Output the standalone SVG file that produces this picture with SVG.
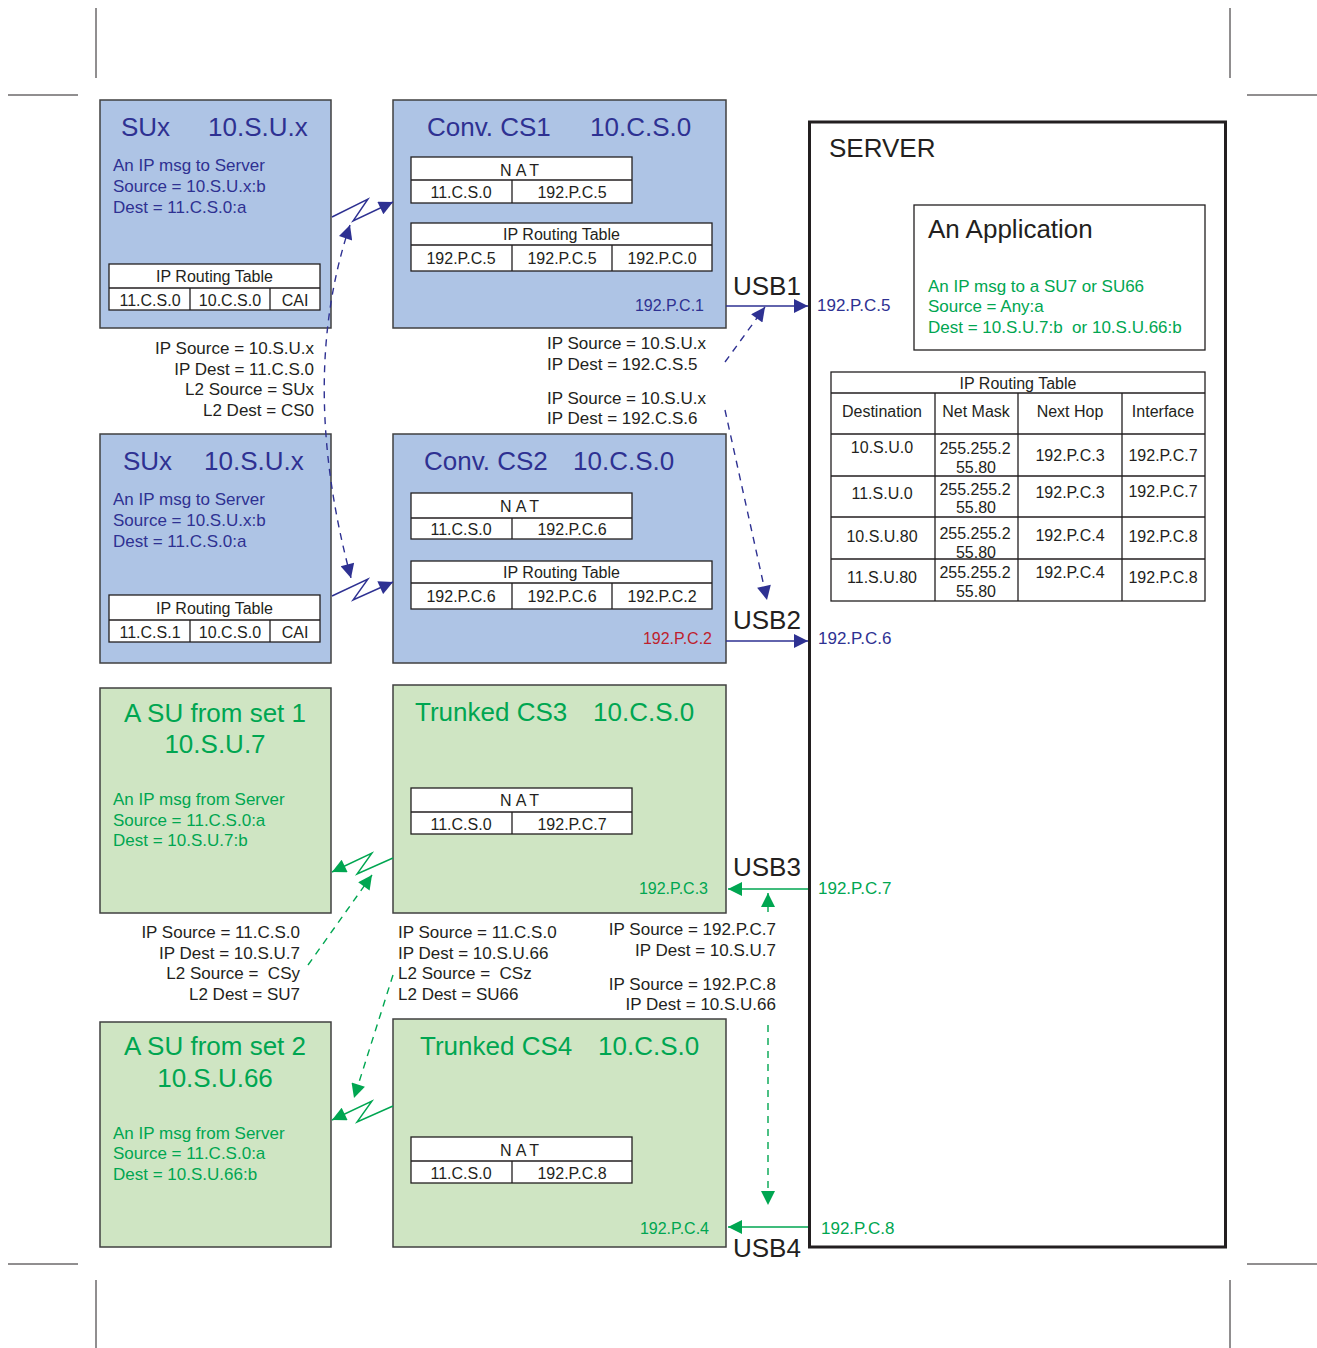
<svg xmlns="http://www.w3.org/2000/svg" width="1317" height="1348" viewBox="0 0 1317 1348">
<defs>
<style>
text{font-family:"Liberation Sans",Arial,sans-serif;fill:#231f20}
.t26{font-size:26px}
.t17{font-size:17px}
.t16{font-size:16px}
.blue{fill:#2e3192}
.green{fill:#00a651}
.red{fill:#be1e2d}
.mid{text-anchor:middle}
.end{text-anchor:end}
.bbox{fill:#aec4e5;stroke:#404040;stroke-width:1.5}
.gbox{fill:#cfe5c3;stroke:#404040;stroke-width:1.5}
.tbl{fill:#fff;stroke:#231f20;stroke-width:1.3}
.ln{stroke:#231f20;stroke-width:1.3;fill:none}
.crop{stroke:#231f20;stroke-width:1}
.cb{stroke:#2e3192;stroke-width:1.4;fill:none}
.cg{stroke:#00a651;stroke-width:1.4;fill:none}
.dash{stroke-dasharray:7,6}
</style>
<marker id="ab" viewBox="0 0 10 10" refX="10" refY="5" markerWidth="16" markerHeight="14" markerUnits="userSpaceOnUse" orient="auto-start-reverse"><path d="M0,0 L10,5 L0,10 z" fill="#2e3192"/></marker>
<marker id="ag" viewBox="0 0 10 10" refX="10" refY="5" markerWidth="16" markerHeight="14" markerUnits="userSpaceOnUse" orient="auto-start-reverse"><path d="M0,0 L10,5 L0,10 z" fill="#00a651"/></marker>
</defs>
<rect width="1317" height="1348" fill="#fff"/>
<g id="cropmarks">
<line class="crop" x1="96" y1="8" x2="96" y2="78"/>
<line class="crop" x1="1230" y1="8" x2="1230" y2="78"/>
<line class="crop" x1="8" y1="95" x2="78" y2="95"/>
<line class="crop" x1="1247" y1="95" x2="1317" y2="95"/>
<line class="crop" x1="8" y1="1264" x2="78" y2="1264"/>
<line class="crop" x1="1247" y1="1264" x2="1317" y2="1264"/>
<line class="crop" x1="96" y1="1280" x2="96" y2="1348"/>
<line class="crop" x1="1230" y1="1280" x2="1230" y2="1348"/>
</g>

<g id="sux1">
<rect class="bbox" x="100" y="100" width="231" height="228"/>
<text class="t26 blue" x="121" y="136">SUx</text>
<text class="t26 blue" x="208" y="136">10.S.U.x</text>
<text class="t17 blue" x="113" y="171">An IP msg to Server</text>
<text class="t17 blue" x="113" y="192">Source = 10.S.U.x:b</text>
<text class="t17 blue" x="113" y="213">Dest = 11.C.S.0:a</text>
<rect class="tbl" x="109" y="264" width="211" height="46"/>
<path class="ln" d="M109,288 H320 M190,288 V310 M270,288 V310"/>
<text class="t16 mid" x="214.5" y="282">IP Routing Table</text>
<text class="t16 mid" x="150" y="306">11.C.S.0</text>
<text class="t16 mid" x="230" y="306">10.C.S.0</text>
<text class="t16 mid" x="295" y="306">CAI</text>
</g>

<g id="cs1">
<rect class="bbox" x="393" y="100" width="333" height="228"/>
<text class="t26 blue" x="427" y="136">Conv. CS1</text>
<text class="t26 blue" x="590" y="136">10.C.S.0</text>
<rect class="tbl" x="411" y="157" width="221" height="46"/>
<path class="ln" d="M411,180 H632 M512,180 V203"/>
<text class="t16 mid" x="521.5" y="176" letter-spacing="4">NAT</text>
<text class="t16 mid" x="461" y="198">11.C.S.0</text>
<text class="t16 mid" x="572" y="198">192.P.C.5</text>
<rect class="tbl" x="411" y="223" width="301" height="48"/>
<path class="ln" d="M411,245 H712 M512,245 V271 M612,245 V271"/>
<text class="t16 mid" x="561.5" y="240">IP Routing Table</text>
<text class="t16 mid" x="461" y="264">192.P.C.5</text>
<text class="t16 mid" x="562" y="264">192.P.C.5</text>
<text class="t16 mid" x="662" y="264">192.P.C.0</text>
<text class="t16 blue end" x="704" y="311">192.P.C.1</text>
</g>

<g id="sux2">
<rect class="bbox" x="100" y="434" width="231" height="229"/>
<text class="t26 blue" x="123" y="470">SUx</text>
<text class="t26 blue" x="204" y="470">10.S.U.x</text>
<text class="t17 blue" x="113" y="505">An IP msg to Server</text>
<text class="t17 blue" x="113" y="526">Source = 10.S.U.x:b</text>
<text class="t17 blue" x="113" y="547">Dest = 11.C.S.0:a</text>
<rect class="tbl" x="109" y="595" width="211" height="47"/>
<path class="ln" d="M109,620 H320 M190,620 V642 M270,620 V642"/>
<text class="t16 mid" x="214.5" y="614">IP Routing Table</text>
<text class="t16 mid" x="150" y="638">11.C.S.1</text>
<text class="t16 mid" x="230" y="638">10.C.S.0</text>
<text class="t16 mid" x="295" y="638">CAI</text>
</g>

<g id="cs2">
<rect class="bbox" x="393" y="434" width="333" height="229"/>
<text class="t26 blue" x="424" y="470">Conv. CS2</text>
<text class="t26 blue" x="573" y="470">10.C.S.0</text>
<rect class="tbl" x="411" y="493" width="221" height="46"/>
<path class="ln" d="M411,518 H632 M512,518 V539"/>
<text class="t16 mid" x="521.5" y="512" letter-spacing="4">NAT</text>
<text class="t16 mid" x="461" y="535">11.C.S.0</text>
<text class="t16 mid" x="572" y="535">192.P.C.6</text>
<rect class="tbl" x="411" y="561" width="301" height="48"/>
<path class="ln" d="M411,583 H712 M512,583 V609 M612,583 V609"/>
<text class="t16 mid" x="561.5" y="578">IP Routing Table</text>
<text class="t16 mid" x="461" y="602">192.P.C.6</text>
<text class="t16 mid" x="562" y="602">192.P.C.6</text>
<text class="t16 mid" x="662" y="602">192.P.C.2</text>
<text class="t16 red end" x="712" y="644">192.P.C.2</text>
</g>

<g id="su7">
<rect class="gbox" x="100" y="688" width="231" height="225"/>
<text class="t26 green mid" x="215" y="722">A SU from set 1</text>
<text class="t26 green mid" x="215" y="753">10.S.U.7</text>
<text class="t17 green" x="113" y="805">An IP msg from Server</text>
<text class="t17 green" x="113" y="826">Source = 11.C.S.0:a</text>
<text class="t17 green" x="113" y="846">Dest = 10.S.U.7:b</text>
</g>

<g id="cs3">
<rect class="gbox" x="393" y="685" width="333" height="228"/>
<text class="t26 green" x="415" y="721">Trunked CS3</text>
<text class="t26 green" x="593" y="721">10.C.S.0</text>
<rect class="tbl" x="411" y="788" width="221" height="46"/>
<path class="ln" d="M411,812 H632 M512,812 V834"/>
<text class="t16 mid" x="521.5" y="806" letter-spacing="4">NAT</text>
<text class="t16 mid" x="461" y="830">11.C.S.0</text>
<text class="t16 mid" x="572" y="830">192.P.C.7</text>
<text class="t16 green end" x="708" y="894">192.P.C.3</text>
</g>

<g id="su66">
<rect class="gbox" x="100" y="1022" width="231" height="225"/>
<text class="t26 green mid" x="215" y="1055">A SU from set 2</text>
<text class="t26 green mid" x="215" y="1087">10.S.U.66</text>
<text class="t17 green" x="113" y="1139">An IP msg from Server</text>
<text class="t17 green" x="113" y="1159">Source = 11.C.S.0:a</text>
<text class="t17 green" x="113" y="1180">Dest = 10.S.U.66:b</text>
</g>

<g id="cs4">
<rect class="gbox" x="393" y="1019" width="333" height="228"/>
<text class="t26 green" x="420" y="1055">Trunked CS4</text>
<text class="t26 green" x="598" y="1055">10.C.S.0</text>
<rect class="tbl" x="411" y="1137" width="221" height="46"/>
<path class="ln" d="M411,1161 H632 M512,1161 V1183"/>
<text class="t16 mid" x="521.5" y="1156" letter-spacing="4">NAT</text>
<text class="t16 mid" x="461" y="1179">11.C.S.0</text>
<text class="t16 mid" x="572" y="1179">192.P.C.8</text>
<text class="t16 green end" x="709" y="1234">192.P.C.4</text>
</g>

<g id="server">
<rect x="809.5" y="122" width="416" height="1125" fill="none" stroke="#231f20" stroke-width="3"/>
<text class="t26" x="829" y="157">SERVER</text>
<g id="application">
<rect x="914" y="205" width="291" height="145" fill="#fff" stroke="#231f20" stroke-width="1.3"/>
<text class="t26" x="928" y="238">An Application</text>
<text class="t17 green" x="928" y="292">An IP msg to a SU7 or SU66</text>
<text class="t17 green" x="928" y="312">Source = Any:a</text>
<text class="t17 green" x="928" y="333" xml:space="preserve">Dest = 10.S.U.7:b  or 10.S.U.66:b</text>
</g>
<g id="server-routing-table">
<rect class="tbl" x="831" y="372" width="374" height="229"/>
<path class="ln" d="M831,393 H1205 M831,434 H1205 M831,476 H1205 M831,517 H1205 M831,559 H1205 M935,393 V601 M1018,393 V601 M1122,393 V601"/>
<text class="t16 mid" x="1018" y="389">IP Routing Table</text>
<text class="t16 mid" x="882" y="417">Destination</text>
<text class="t16 mid" x="976" y="417">Net Mask</text>
<text class="t16 mid" x="1070" y="417">Next Hop</text>
<text class="t16 mid" x="1163" y="417">Interface</text>
<text class="t16 mid" x="882" y="453">10.S.U.0</text>
<text class="t16 mid" x="975" y="454">255.255.2</text>
<text class="t16 mid" x="976" y="473">55.80</text>
<text class="t16 mid" x="1070" y="461">192.P.C.3</text>
<text class="t16 mid" x="1163" y="461">192.P.C.7</text>
<text class="t16 mid" x="882" y="499">11.S.U.0</text>
<text class="t16 mid" x="975" y="495">255.255.2</text>
<text class="t16 mid" x="976" y="513">55.80</text>
<text class="t16 mid" x="1070" y="498">192.P.C.3</text>
<text class="t16 mid" x="1163" y="497">192.P.C.7</text>
<text class="t16 mid" x="882" y="542">10.S.U.80</text>
<text class="t16 mid" x="975" y="539">255.255.2</text>
<text class="t16 mid" x="976" y="558">55.80</text>
<text class="t16 mid" x="1070" y="541">192.P.C.4</text>
<text class="t16 mid" x="1163" y="542">192.P.C.8</text>
<text class="t16 mid" x="882" y="583">11.S.U.80</text>
<text class="t16 mid" x="975" y="578">255.255.2</text>
<text class="t16 mid" x="976" y="597">55.80</text>
<text class="t16 mid" x="1070" y="578">192.P.C.4</text>
<text class="t16 mid" x="1163" y="583">192.P.C.8</text>
</g>
</g>

<g id="connectors">
<polyline class="cb" points="332,217 368,199 353,221 393,202" marker-end="url(#ab)"/>
<polyline class="cb" points="332,596 368,579 353,600 393,582" marker-end="url(#ab)"/>
<path class="cb dash" d="M350,225 Q298,380 351,578" marker-start="url(#ab)" marker-end="url(#ab)"/>
<line class="cb" x1="726" y1="306" x2="808" y2="306" marker-end="url(#ab)"/>
<line class="cb" x1="726" y1="641" x2="808" y2="641" marker-end="url(#ab)"/>
<line class="cb dash" x1="725" y1="362" x2="765" y2="307" marker-end="url(#ab)"/>
<line class="cb dash" x1="725" y1="410" x2="767" y2="600" marker-end="url(#ab)"/>
<polyline class="cg" points="393,858 357,874 372,853 332,872" marker-end="url(#ag)"/>
<polyline class="cg" points="393,1106 357,1122 372,1101 332,1120" marker-end="url(#ag)"/>
<line class="cg dash" x1="308" y1="965" x2="372" y2="875" marker-end="url(#ag)"/>
<line class="cg dash" x1="393" y1="975" x2="354" y2="1098" marker-end="url(#ag)"/>
<line class="cg" x1="808" y1="889" x2="728" y2="889" marker-end="url(#ag)"/>
<line class="cg" x1="808" y1="1227" x2="728" y2="1227" marker-end="url(#ag)"/>
<line class="cg dash" x1="768" y1="912" x2="768" y2="893" marker-end="url(#ag)"/>
<line class="cg dash" x1="768" y1="1025" x2="768" y2="1205" marker-end="url(#ag)"/>
</g>

<g id="labels">
<text class="t26" x="733" y="295">USB1</text>
<text class="t17 blue" x="817" y="311">192.P.C.5</text>
<text class="t26" x="733" y="629">USB2</text>
<text class="t17 blue" x="818" y="644">192.P.C.6</text>
<text class="t26" x="733" y="876">USB3</text>
<text class="t17 green" x="818" y="894">192.P.C.7</text>
<text class="t26" x="733" y="1257">USB4</text>
<text class="t17 green" x="821" y="1234">192.P.C.8</text>
<text class="t17" x="547" y="349">IP Source = 10.S.U.x</text>
<text class="t17" x="547" y="370">IP Dest = 192.C.S.5</text>
<text class="t17" x="547" y="404">IP Source = 10.S.U.x</text>
<text class="t17" x="547" y="424">IP Dest = 192.C.S.6</text>
<text class="t17 end" x="314" y="354">IP Source = 10.S.U.x</text>
<text class="t17 end" x="314" y="375">IP Dest = 11.C.S.0</text>
<text class="t17 end" x="314" y="395">L2 Source = SUx</text>
<text class="t17 end" x="314" y="416">L2 Dest = CS0</text>
<text class="t17 end" x="300" y="938">IP Source = 11.C.S.0</text>
<text class="t17 end" x="300" y="959">IP Dest = 10.S.U.7</text>
<text class="t17 end" x="300" y="979" xml:space="preserve">L2 Source =  CSy</text>
<text class="t17 end" x="300" y="1000">L2 Dest = SU7</text>
<text class="t17" x="398" y="938">IP Source = 11.C.S.0</text>
<text class="t17" x="398" y="959">IP Dest = 10.S.U.66</text>
<text class="t17" x="398" y="979" xml:space="preserve">L2 Source =  CSz</text>
<text class="t17" x="398" y="1000">L2 Dest = SU66</text>
<text class="t17 end" x="776" y="935">IP Source = 192.P.C.7</text>
<text class="t17 end" x="776" y="956">IP Dest = 10.S.U.7</text>
<text class="t17 end" x="776" y="990">IP Source = 192.P.C.8</text>
<text class="t17 end" x="776" y="1010">IP Dest = 10.S.U.66</text>
</g>
</svg>
